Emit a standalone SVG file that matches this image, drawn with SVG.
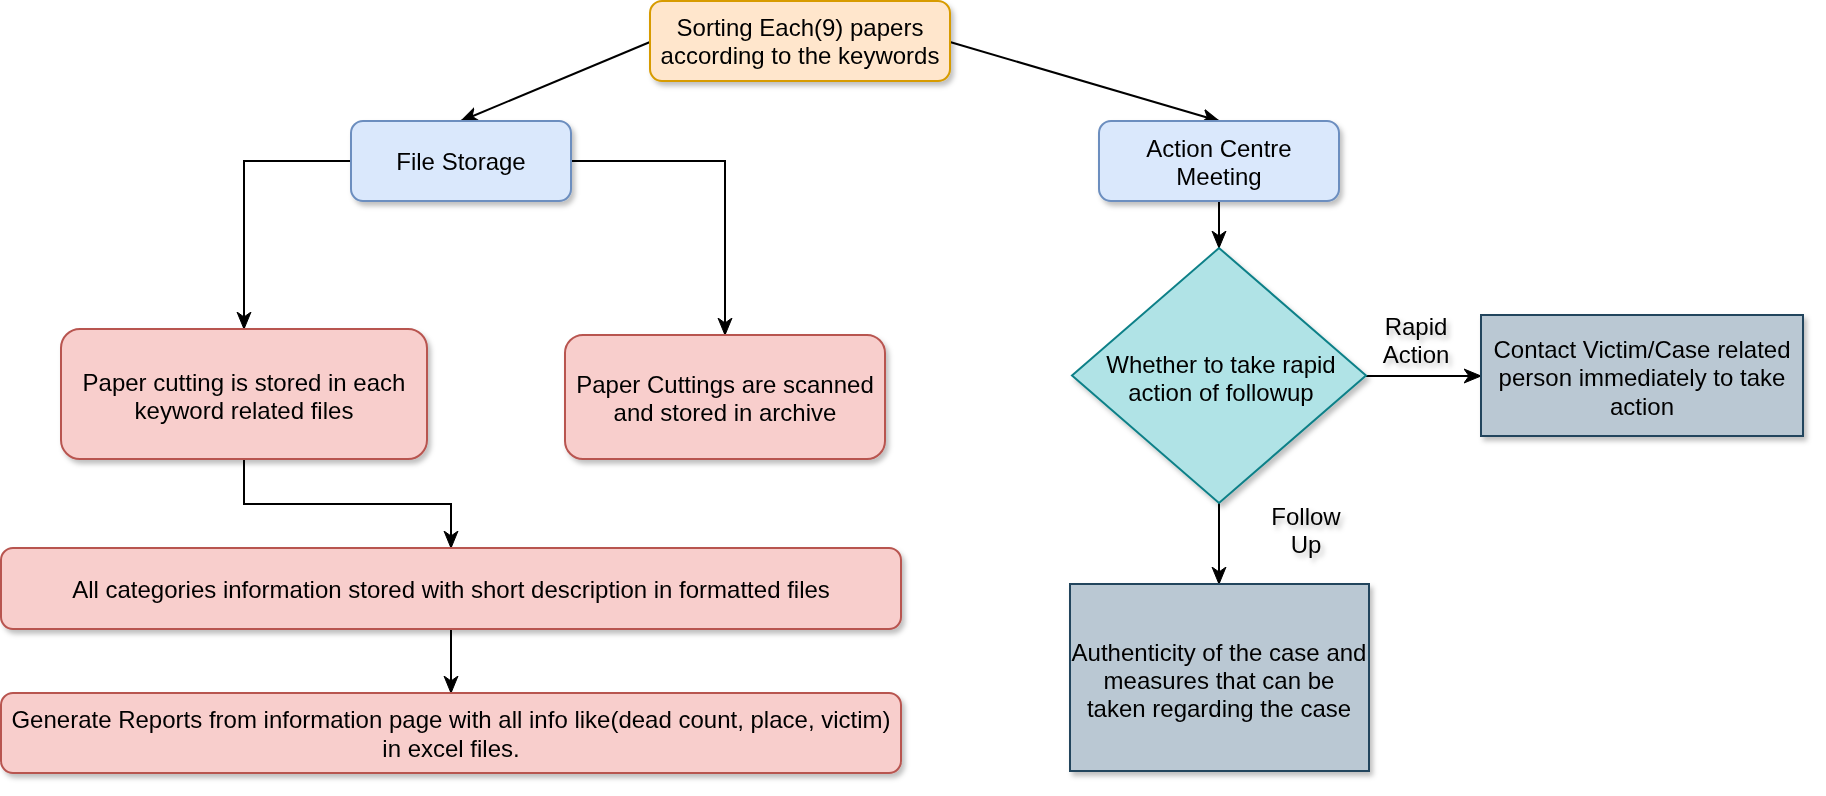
<svg xmlns="http://www.w3.org/2000/svg" width="1826" height="796" viewBox="0 0 1826 796">
<style>
text{font-family:"Liberation Sans",Arial,Helvetica,sans-serif;font-size:24px;fill:#000;text-anchor:middle}
.blue{fill:#dae8fc;stroke:#6c8ebf;stroke-width:2}
.red{fill:#f8cecc;stroke:#b85450;stroke-width:2}
.orange{fill:#ffe6cc;stroke:#d79b00;stroke-width:2}
.teal{fill:#b0e3e6;stroke:#0e8088;stroke-width:2}
.gray{fill:#bac8d3;stroke:#23445d;stroke-width:2}
.edge{fill:none;stroke:#000;stroke-width:2}
.node{filter:url(#sh)}
</style>
<defs>
<filter id="sh" x="-10%" y="-10%" width="130%" height="140%">
<feDropShadow dx="3" dy="4" stdDeviation="2.5" flood-color="#000" flood-opacity="0.25"/>
</filter>
<marker id="arr" markerUnits="userSpaceOnUse" markerWidth="18" markerHeight="16" viewBox="0 0 18 16" refX="17" refY="8" orient="auto">
<path d="M0,1 L17,8 L0,15 L5,8 Z" fill="#000" stroke="#000" stroke-width="1"/>
</marker>
</defs>
<rect width="1826" height="796" fill="#fff"/>
<g id="connectors">
<path class="edge" d="M650,42 L461,121" marker-end="url(#arr)"/>
<path class="edge" d="M950,42 L1219,121" marker-end="url(#arr)"/>
<path class="edge" d="M351,161 L244,161 L244,329" marker-end="url(#arr)"/>
<path class="edge" d="M571,161 L725,161 L725,335" marker-end="url(#arr)"/>
<path class="edge" d="M244,459 L244,504 L451,504 L451,548" marker-end="url(#arr)"/>
<path class="edge" d="M451,629 L451,693" marker-end="url(#arr)"/>
<path class="edge" d="M1219,201 L1219,248" marker-end="url(#arr)"/>
<path class="edge" d="M1366,376 L1481,376" marker-end="url(#arr)"/>
<path class="edge" d="M1219,503 L1219,584" marker-end="url(#arr)"/>
<g class="node">
<text x="1416" y="335">Rapid</text>
<text x="1416" y="363">Action</text>
<text x="1306" y="525">Follow</text>
<text x="1306" y="553">Up</text>
</g>
</g>
<g id="sorting" class="node">
<rect class="orange" x="650" y="1" width="300" height="80" rx="12"/>
<text x="800" y="36">Sorting Each(9) papers</text>
<text x="800" y="64">according to the keywords</text>
</g>
<g id="file-storage" class="node">
<rect class="blue" x="351" y="121" width="220" height="80" rx="12"/>
<text x="461" y="170">File Storage</text>
</g>
<g id="action-centre" class="node">
<rect class="blue" x="1099" y="121" width="240" height="80" rx="12"/>
<text x="1219" y="157">Action Centre</text>
<text x="1219" y="185">Meeting</text>
</g>
<g id="paper-cutting" class="node">
<rect class="red" x="61" y="329" width="366" height="130" rx="19"/>
<text x="244" y="391">Paper cutting is stored in each</text>
<text x="244" y="419">keyword related files</text>
</g>
<g id="paper-scanned" class="node">
<rect class="red" x="565" y="335" width="320" height="124" rx="18"/>
<text x="725" y="393">Paper Cuttings are scanned</text>
<text x="725" y="421">and stored in archive</text>
</g>
<g id="all-categories" class="node">
<rect class="red" x="1" y="548" width="900" height="81" rx="12"/>
<text x="451" y="598">All categories information stored with short description in formatted files</text>
</g>
<g id="generate" class="node">
<rect class="red" x="1" y="693" width="900" height="80" rx="12"/>
<text x="451" y="728">Generate Reports from information page with all info like(dead count, place, victim)</text>
<text x="451" y="757">in excel files.</text>
</g>
<g id="decision" class="node">
<polygon class="teal" points="1219,248 1366,375.5 1219,503 1072,375.5"/>
<text x="1221" y="373">Whether to take rapid</text>
<text x="1221" y="401">action of followup</text>
</g>
<g id="contact" class="node">
<rect class="gray" x="1481" y="315" width="322" height="121"/>
<text x="1642" y="358">Contact Victim/Case related</text>
<text x="1642" y="386">person immediately to take</text>
<text x="1642" y="415">action</text>
</g>
<g id="authenticity" class="node">
<rect class="gray" x="1070" y="584" width="299" height="187"/>
<text x="1219" y="661">Authenticity of the case and</text>
<text x="1219" y="689">measures that can be</text>
<text x="1219" y="717">taken regarding the case</text>
</g>
</svg>
